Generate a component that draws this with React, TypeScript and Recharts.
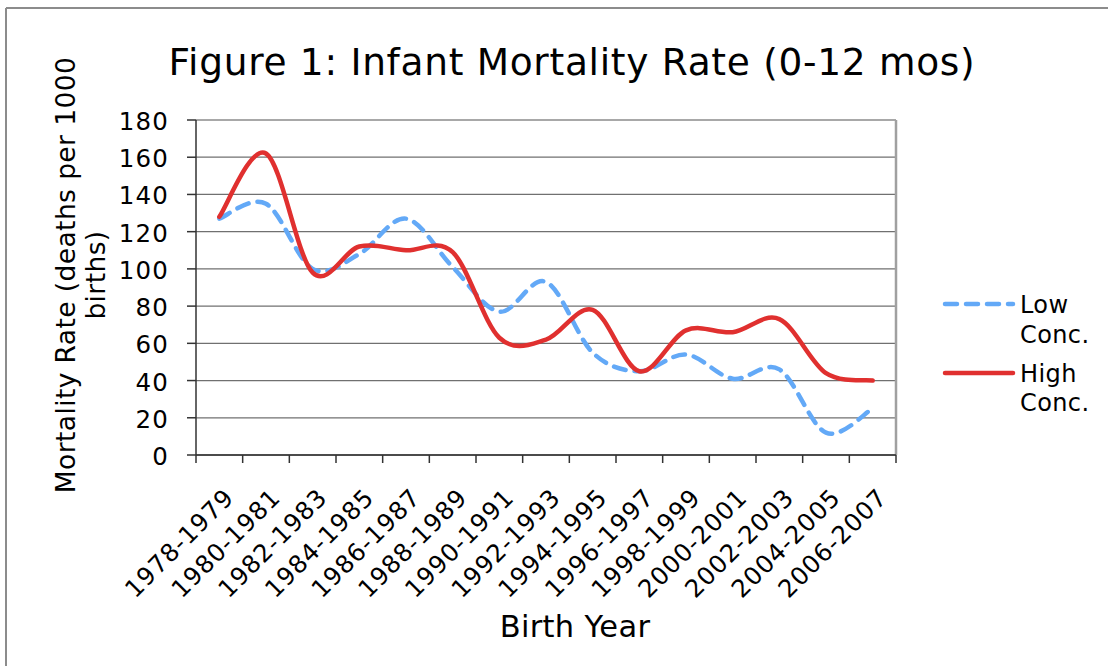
import React from 'react';
import { LineChart, Line, XAxis, YAxis, CartesianGrid, ReferenceLine } from 'recharts';

const categories = [
  '1978-1979', '1980-1981', '1982-1983', '1984-1985', '1986-1987',
  '1988-1989', '1990-1991', '1992-1993', '1994-1995', '1996-1997',
  '1998-1999', '2000-2001', '2002-2003', '2004-2005', '2006-2007',
];
const lowConc = [127, 135, 100, 108, 127, 101, 77, 93, 55, 45, 54, 41, 46, 12, 25];
const highConc = [128, 162, 98, 112, 110, 109, 63, 62, 78, 45, 67, 66, 73, 44, 40];
const yTicks = [0, 20, 40, 60, 80, 100, 120, 140, 160, 180];
const seriesNames = ['Low Conc.', 'High Conc.'];
const titleText = 'Figure 1: Infant Mortality Rate (0-12 mos)';
const yTitleLines = ['Mortality Rate (deaths per 1000', 'births)'];
const xTitleText = 'Birth Year';

const BLUE = '#63a9f7';
const RED = '#e0302f';
const FONT = 'DejaVu Sans, Verdana, sans-serif';

const data = categories.map((c, i) => ({ idx: i, cat: c, low: lowConc[i], high: highConc[i] }));
const xTicks: number[] = [];
categories.forEach((_, i) => {
  xTicks.push(i - 0.5);
  xTicks.push(i);
});
xTicks.push(categories.length - 0.5);

// Excel-like smoothing (Catmull-Rom through the points)
const excelSmooth = (context: any) => {
  let pts: number[][] = [];
  return {
    areaStart() {},
    areaEnd() {},
    lineStart() {
      pts = [];
    },
    point(x: number, y: number) {
      pts.push([+x, +y]);
    },
    lineEnd() {
      const n = pts.length;
      if (n === 0) return;
      context.moveTo(pts[0][0], pts[0][1]);
      if (n === 1) return;
      for (let i = 0; i < n - 1; i++) {
        const p0 = pts[i === 0 ? 0 : i - 1];
        const p1 = pts[i];
        const p2 = pts[i + 1];
        const p3 = pts[i + 2 < n ? i + 2 : n - 1];
        context.bezierCurveTo(
          p1[0] + (p2[0] - p0[0]) / 6,
          p1[1] + (p2[1] - p0[1]) / 6,
          p2[0] - (p3[0] - p1[0]) / 6,
          p2[1] - (p3[1] - p1[1]) / 6,
          p2[0],
          p2[1]
        );
      }
    },
  };
};

const XTick = (props: any) => {
  const { x, y, payload } = props;
  const v = payload.value;
  if (Number.isInteger(v)) {
    const ax = x + 16;
    const ay = y + 44;
    return (
      <text
        x={ax}
        y={ay}
        textAnchor="end"
        transform={`rotate(-45 ${ax} ${ay})`}
        fontSize={24.5}
        letterSpacing={0.9}
        fontFamily={FONT}
        fill="#000"
      >
        {categories[v]}
      </text>
    );
  }
  return <line x1={x} y1={y} x2={x} y2={y + 8} stroke="#333" strokeWidth={1.5} />;
};

const YTick = (props: any) => {
  const { x, y, payload } = props;
  return (
    <g>
      <line x1={x - 9} y1={y} x2={x} y2={y} stroke="#333" strokeWidth={1.5} />
      <text
        x={x - 27}
        y={y + 10}
        textAnchor="end"
        fontSize={24.5}
        letterSpacing={1.2}
        fontFamily={FONT}
        fill="#000"
      >
        {payload.value}
      </text>
    </g>
  );
};

export default function App() {
  return (
    <div style={{ position: 'absolute', left: 0, top: 0, width: 1108, height: 666, background: '#fff' }}>
      <div style={{ position: 'absolute', left: 0, top: 0 }}>
        <LineChart
          width={1108}
          height={666}
          data={data}
          margin={{ top: 120, right: 212, bottom: 0, left: 0 }}
        >
          <CartesianGrid vertical={false} stroke="#707070" strokeWidth={1.3} />
          <XAxis
            dataKey="idx"
            type="number"
            domain={[-0.5, categories.length - 0.5]}
            ticks={xTicks}
            interval={0}
            height={211}
            tickSize={0}
            tickMargin={0}
            tickLine={false}
            tick={<XTick />}
            axisLine={{ stroke: '#333', strokeWidth: 1.5 }}
            allowDataOverflow
          />
          <YAxis
            type="number"
            domain={[0, 180]}
            ticks={yTicks}
            interval={0}
            width={196}
            tickSize={0}
            tickMargin={0}
            tickLine={false}
            tick={<YTick />}
            axisLine={{ stroke: '#333', strokeWidth: 1.5 }}
          />
          <ReferenceLine y={180} stroke="#a8a8a8" strokeWidth={2} />
          <ReferenceLine x={categories.length - 0.5} stroke="#a0a0a0" strokeWidth={2.5} />
          <Line
            dataKey="low"
            name={seriesNames[0]}
            type={excelSmooth as any}
            stroke={BLUE}
            strokeWidth={4.5}
            strokeDasharray="12 9"
            strokeLinecap="round"
            dot={false}
            activeDot={false}
            isAnimationActive={false}
          />
          <Line
            dataKey="high"
            name={seriesNames[1]}
            type={excelSmooth as any}
            stroke={RED}
            strokeWidth={4.5}
            strokeLinecap="round"
            dot={false}
            activeDot={false}
            isAnimationActive={false}
          />
        </LineChart>
      </div>
      <svg
        width={1108}
        height={666}
        style={{ position: 'absolute', left: 0, top: 0, pointerEvents: 'none' }}
        fontFamily={FONT}
      >
        <line x1={6} y1={8} x2={1108} y2={8} stroke="#8c8c8c" strokeWidth={2} />
        <line x1={6} y1={8} x2={6} y2={666} stroke="#8c8c8c" strokeWidth={2} />
        <text x={572} y={75} textAnchor="middle" fontSize={37.5} letterSpacing={0.7} fill="#000">
          {titleText}
        </text>
        <text x={75} y={275} textAnchor="middle" fontSize={26.5} letterSpacing={0.4} fill="#000" transform="rotate(-90 75 275)">
          {yTitleLines[0]}
        </text>
        <text x={105} y={275} textAnchor="middle" fontSize={26.5} letterSpacing={0.4} fill="#000" transform="rotate(-90 105 275)">
          {yTitleLines[1]}
        </text>
        <text x={575} y={637} textAnchor="middle" fontSize={30.5} letterSpacing={0.3} fill="#000">
          {xTitleText}
        </text>
        <line x1={945} y1={304} x2={1013} y2={304} stroke={BLUE} strokeWidth={4.5} strokeDasharray="12 9" strokeLinecap="round" />
        <text x={1020} y={313} fontSize={24} letterSpacing={0.4} fill="#000">Low</text>
        <text x={1020} y={343} fontSize={24} letterSpacing={0.4} fill="#000">Conc.</text>
        <line x1={945} y1={373} x2={1013} y2={373} stroke={RED} strokeWidth={4.5} strokeLinecap="round" />
        <text x={1020} y={382} fontSize={24} letterSpacing={0.4} fill="#000">High</text>
        <text x={1020} y={411} fontSize={24} letterSpacing={0.4} fill="#000">Conc.</text>
      </svg>
    </div>
  );
}
